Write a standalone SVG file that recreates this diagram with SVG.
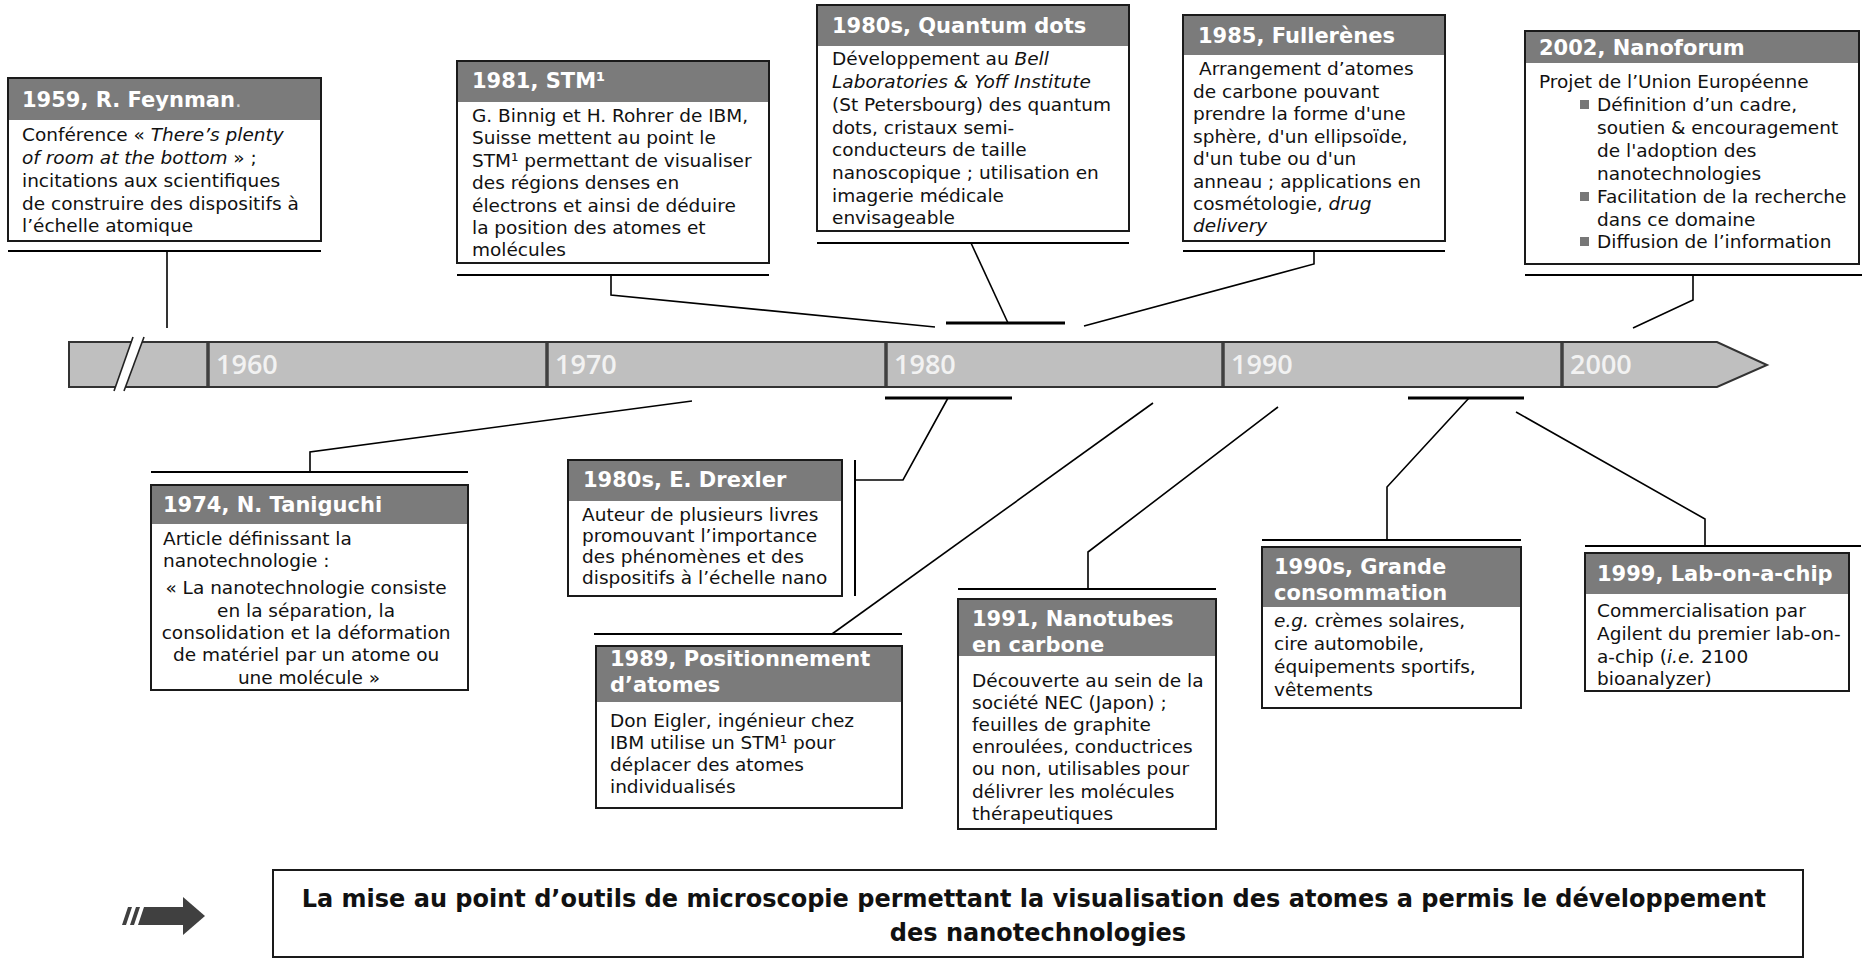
<svg xmlns="http://www.w3.org/2000/svg" width="1862" height="959" viewBox="0 0 1862 959">
  <style>
    .bg { fill: #ffffff; }
    .hdr { fill: #7b7b7b; }
    .frame { fill: none; stroke: #1a1a1a; stroke-width: 2; }
    .ttl { font-family: "DejaVu Sans", Verdana, sans-serif; font-weight: bold; font-size: 21px; fill: #ffffff; }
    .txt { font-family: "DejaVu Sans", Verdana, sans-serif; font-size: 18.5px; fill: #111111; }
    .it { font-style: italic; }
    .sep { stroke: #000000; stroke-width: 2; }
    .conn { stroke: #000000; stroke-width: 1.6; fill: none; }
    .tick { stroke: #000000; stroke-width: 3; }
    .year { font-family: "Open Sans", "DejaVu Sans", sans-serif; font-weight: 600; font-size: 27px; fill: #f2f2f2; }
    .bullet { fill: #777777; }
    .banner { font-family: "DejaVu Sans", Verdana, sans-serif; font-weight: bold; font-size: 24px; fill: #111111; }
  </style>

  <!-- time axis -->
  <g id="timeline">
    <polygon points="69,342 1717,342 1767,365 1717,387 69,387" fill="#bfbfbf" stroke="#333333" stroke-width="2"/>
    <g stroke="#404040" stroke-width="3.5">
      <line x1="208" y1="343" x2="208" y2="386"/>
      <line x1="547" y1="343" x2="547" y2="386"/>
      <line x1="886" y1="343" x2="886" y2="386"/>
      <line x1="1223" y1="343" x2="1223" y2="386"/>
      <line x1="1562" y1="343" x2="1562" y2="386"/>
    </g>
    <!-- axis break -->
    <polygon points="114,391 133,337 144,337 124,391" fill="#ffffff"/>
    <line x1="114" y1="391" x2="133" y2="337" stroke="#222222" stroke-width="1.6"/>
    <line x1="124" y1="391" x2="144" y2="337" stroke="#222222" stroke-width="1.6"/>
    <text class="year" x="216" y="374">1960</text>
    <text class="year" x="555" y="374">1970</text>
    <text class="year" x="894" y="374">1980</text>
    <text class="year" x="1231" y="374">1990</text>
    <text class="year" x="1570" y="374">2000</text>
  </g>

  <!-- connectors and separator rules -->
  <g id="connectors">
    <line class="sep" x1="8" y1="251" x2="321" y2="251"/>
    <line class="sep" x1="457" y1="275" x2="769" y2="275"/>
    <line class="sep" x1="817" y1="243" x2="1129" y2="243"/>
    <line class="sep" x1="1183" y1="251" x2="1445" y2="251"/>
    <line class="sep" x1="1525" y1="275" x2="1862" y2="275"/>
    <line class="sep" x1="151" y1="472" x2="468" y2="472"/>
    <line class="sep" x1="855" y1="460" x2="855" y2="596"/>
    <line class="sep" x1="594" y1="634" x2="902" y2="634"/>
    <line class="sep" x1="958" y1="589" x2="1216" y2="589"/>
    <line class="sep" x1="1262" y1="540" x2="1521" y2="540"/>
    <line class="sep" x1="1585" y1="546" x2="1861" y2="546"/>

    <line class="tick" x1="946" y1="323" x2="1065" y2="323"/>
    <line class="tick" x1="885" y1="398" x2="1012" y2="398"/>
    <line class="tick" x1="1408" y1="398" x2="1524" y2="398"/>

    <polyline class="conn" points="167,251 167,328"/>
    <polyline class="conn" points="611,275 611,295 935,327"/>
    <polyline class="conn" points="971,243 1008,323"/>
    <polyline class="conn" points="1314,251 1314,264 1084,326"/>
    <polyline class="conn" points="1693,275 1693,300 1633,328"/>
    <polyline class="conn" points="310,472 310,452 692,401"/>
    <polyline class="conn" points="948,398 903,480 855,480"/>
    <polyline class="conn" points="832,634 1153,403"/>
    <polyline class="conn" points="1088,589 1088,552 1278,407"/>
    <polyline class="conn" points="1469,398 1387,487 1387,540"/>
    <polyline class="conn" points="1705,546 1705,519 1516,412"/>
  </g>

  <g id="feynman">
    <rect class="bg" x="8" y="78" width="313" height="163"/>
    <rect class="hdr" x="8" y="78" width="313" height="42"/>
    <rect class="frame" x="8" y="78" width="313" height="163"/>
    <text class="ttl" x="22" y="107">1959, R. Feynman<tspan font-weight="normal" fill="#d4d4d4">.</tspan></text>
    <text class="txt">
      <tspan x="22" y="141">Conférence « <tspan class="it">There’s plenty</tspan></tspan>
      <tspan x="22" y="164"><tspan class="it">of room at the bottom</tspan> » ;</tspan>
      <tspan x="22" y="187">incitations aux scientifiques</tspan>
      <tspan x="22" y="209.5">de construire des dispositifs à</tspan>
      <tspan x="22" y="232">l’échelle atomique</tspan>
    </text>
  </g>

  <g id="stm">
    <rect class="bg" x="457" y="61" width="312" height="202"/>
    <rect class="hdr" x="457" y="61" width="312" height="41"/>
    <rect class="frame" x="457" y="61" width="312" height="202"/>
    <text class="ttl" x="472" y="88">1981, STM¹</text>
    <text class="txt">
      <tspan x="472" y="121.5">G. Binnig et H. Rohrer de IBM,</tspan>
      <tspan x="472" y="144">Suisse mettent au point le</tspan>
      <tspan x="472" y="166.5">STM¹ permettant de visualiser</tspan>
      <tspan x="472" y="189">des régions denses en</tspan>
      <tspan x="472" y="211.5">électrons et ainsi de déduire</tspan>
      <tspan x="472" y="233.5">la position des atomes et</tspan>
      <tspan x="472" y="255.5">molécules</tspan>
    </text>
  </g>

  <g id="quantum-dots">
    <rect class="bg" x="817" y="5" width="312" height="226"/>
    <rect class="hdr" x="817" y="5" width="312" height="41"/>
    <rect class="frame" x="817" y="5" width="312" height="226"/>
    <text class="ttl" x="832" y="33">1980s, Quantum dots</text>
    <text class="txt">
      <tspan x="832" y="64.5">Développement au <tspan class="it">Bell</tspan></tspan>
      <tspan x="832" y="87.5" class="it">Laboratories &amp; Yoff Institute</tspan>
      <tspan x="832" y="110.5">(St Petersbourg) des quantum</tspan>
      <tspan x="832" y="133.5">dots, cristaux semi-</tspan>
      <tspan x="832" y="156">conducteurs de taille</tspan>
      <tspan x="832" y="179">nanoscopique ; utilisation en</tspan>
      <tspan x="832" y="201.5">imagerie médicale</tspan>
      <tspan x="832" y="224">envisageable</tspan>
    </text>
  </g>

  <g id="fullerenes">
    <rect class="bg" x="1183" y="15" width="262" height="226"/>
    <rect class="hdr" x="1183" y="15" width="262" height="40"/>
    <rect class="frame" x="1183" y="15" width="262" height="226"/>
    <text class="ttl" x="1198" y="43">1985, Fullerènes</text>
    <text class="txt">
      <tspan x="1199" y="75">Arrangement d’atomes</tspan>
      <tspan x="1193" y="97.5">de carbone pouvant</tspan>
      <tspan x="1193" y="120">prendre la forme d'une</tspan>
      <tspan x="1193" y="142.5">sphère, d'un ellipsoïde,</tspan>
      <tspan x="1193" y="165">d'un tube ou d'un</tspan>
      <tspan x="1193" y="187.5">anneau ; applications en</tspan>
      <tspan x="1193" y="210">cosmétologie, <tspan class="it">drug</tspan></tspan>
      <tspan x="1193" y="232" class="it">delivery</tspan>
    </text>
  </g>

  <g id="nanoforum">
    <rect class="bg" x="1525" y="31" width="334" height="233"/>
    <rect class="hdr" x="1525" y="31" width="334" height="32"/>
    <rect class="frame" x="1525" y="31" width="334" height="233"/>
    <text class="ttl" x="1539" y="55">2002, Nanoforum</text>
    <text class="txt">
      <tspan x="1539" y="88">Projet de l’Union Européenne</tspan>
      <tspan x="1597" y="111">Définition d’un cadre,</tspan>
      <tspan x="1597" y="134">soutien &amp; encouragement</tspan>
      <tspan x="1597" y="157">de l'adoption des</tspan>
      <tspan x="1597" y="179.5">nanotechnologies</tspan>
      <tspan x="1597" y="203">Facilitation de la recherche</tspan>
      <tspan x="1597" y="225.5">dans ce domaine</tspan>
      <tspan x="1597" y="248">Diffusion de l’information</tspan>
    </text>
    <rect class="bullet" x="1580" y="100" width="9" height="9"/>
    <rect class="bullet" x="1580" y="192" width="9" height="9"/>
    <rect class="bullet" x="1580" y="237" width="9" height="9"/>
  </g>

  <g id="taniguchi">
    <rect class="bg" x="151" y="485" width="317" height="205"/>
    <rect class="hdr" x="151" y="485" width="317" height="39"/>
    <rect class="frame" x="151" y="485" width="317" height="205"/>
    <text class="ttl" x="163" y="512">1974, N. Taniguchi</text>
    <text class="txt">
      <tspan x="163" y="545">Article définissant la</tspan>
      <tspan x="163" y="567">nanotechnologie :</tspan>
    </text>
    <text class="txt" text-anchor="middle">
      <tspan x="309" y="594">« La nanotechnologie consiste</tspan>
      <tspan x="309" y="616.5">en la séparation, la</tspan>
      <tspan x="309" y="639">consolidation et la déformation</tspan>
      <tspan x="309" y="661">de matériel par un atome ou</tspan>
      <tspan x="309" y="684">une molécule »</tspan>
    </text>
  </g>

  <g id="drexler">
    <rect class="bg" x="568" y="460" width="274" height="136"/>
    <rect class="hdr" x="568" y="460" width="274" height="41"/>
    <rect class="frame" x="568" y="460" width="274" height="136"/>
    <text class="ttl" x="583" y="487">1980s, E. Drexler</text>
    <text class="txt">
      <tspan x="582" y="521">Auteur de plusieurs livres</tspan>
      <tspan x="582" y="542">promouvant l’importance</tspan>
      <tspan x="582" y="563">des phénomènes et des</tspan>
      <tspan x="582" y="584">dispositifs à l’échelle nano</tspan>
    </text>
  </g>

  <g id="positionnement">
    <rect class="bg" x="596" y="646" width="306" height="162"/>
    <rect class="hdr" x="596" y="646" width="306" height="56"/>
    <rect class="frame" x="596" y="646" width="306" height="162"/>
    <text class="ttl">
      <tspan x="610" y="666">1989, Positionnement</tspan>
      <tspan x="610" y="692">d’atomes</tspan>
    </text>
    <text class="txt">
      <tspan x="610" y="726.5">Don Eigler, ingénieur chez</tspan>
      <tspan x="610" y="748.5">IBM utilise un STM¹ pour</tspan>
      <tspan x="610" y="770.5">déplacer des atomes</tspan>
      <tspan x="610" y="792.5">individualisés</tspan>
    </text>
  </g>

  <g id="nanotubes">
    <rect class="bg" x="958" y="599" width="258" height="230"/>
    <rect class="hdr" x="958" y="599" width="258" height="57"/>
    <rect class="frame" x="958" y="599" width="258" height="230"/>
    <text class="ttl">
      <tspan x="972" y="626">1991, Nanotubes</tspan>
      <tspan x="972" y="652">en carbone</tspan>
    </text>
    <text class="txt">
      <tspan x="972" y="686.5">Découverte au sein de la</tspan>
      <tspan x="972" y="708.5">société NEC (Japon) ;</tspan>
      <tspan x="972" y="731">feuilles de graphite</tspan>
      <tspan x="972" y="753">enroulées, conductrices</tspan>
      <tspan x="972" y="775">ou non, utilisables pour</tspan>
      <tspan x="972" y="797.5">délivrer les molécules</tspan>
      <tspan x="972" y="819.5">thérapeutiques</tspan>
    </text>
  </g>

  <g id="grande-consommation">
    <rect class="bg" x="1262" y="547" width="259" height="161"/>
    <rect class="hdr" x="1262" y="547" width="259" height="60"/>
    <rect class="frame" x="1262" y="547" width="259" height="161"/>
    <text class="ttl">
      <tspan x="1274" y="574">1990s, Grande</tspan>
      <tspan x="1274" y="600">consommation</tspan>
    </text>
    <text class="txt">
      <tspan x="1274" y="627"><tspan class="it">e.g.</tspan> crèmes solaires,</tspan>
      <tspan x="1274" y="650">cire automobile,</tspan>
      <tspan x="1274" y="673">équipements sportifs,</tspan>
      <tspan x="1274" y="696">vêtements</tspan>
    </text>
  </g>

  <g id="lab-on-a-chip">
    <rect class="bg" x="1585" y="553" width="264" height="138"/>
    <rect class="hdr" x="1585" y="553" width="264" height="41"/>
    <rect class="frame" x="1585" y="553" width="264" height="138"/>
    <text class="ttl" x="1597" y="581">1999, Lab-on-a-chip</text>
    <text class="txt">
      <tspan x="1597" y="617">Commercialisation par</tspan>
      <tspan x="1597" y="639.5">Agilent du premier lab-on-</tspan>
      <tspan x="1597" y="662.5">a-chip (<tspan class="it">i.e.</tspan> 2100</tspan>
      <tspan x="1597" y="685">bioanalyzer)</tspan>
    </text>
  </g>

  <g id="conclusion">
    <g id="arrow-icon" fill="#404040">
      <polygon points="122,925 128,907 132,907 126,925"/>
      <polygon points="130,925 136,907 140,907 134,925"/>
      <polygon points="138,925 144,907 184,907 184,925"/>
      <polygon points="183,897 205,916 183,935"/>
    </g>
    <rect class="bg" x="273" y="870" width="1530" height="87"/>
    <rect class="frame" x="273" y="870" width="1530" height="87"/>
    <text class="banner" text-anchor="middle">
      <tspan x="1038" y="907">La mise au point d’outils de microscopie permettant la visualisation des atomes a permis le développement</tspan>
      <tspan x="1038" y="941">des nanotechnologies</tspan>
    </text>
  </g>
</svg>
